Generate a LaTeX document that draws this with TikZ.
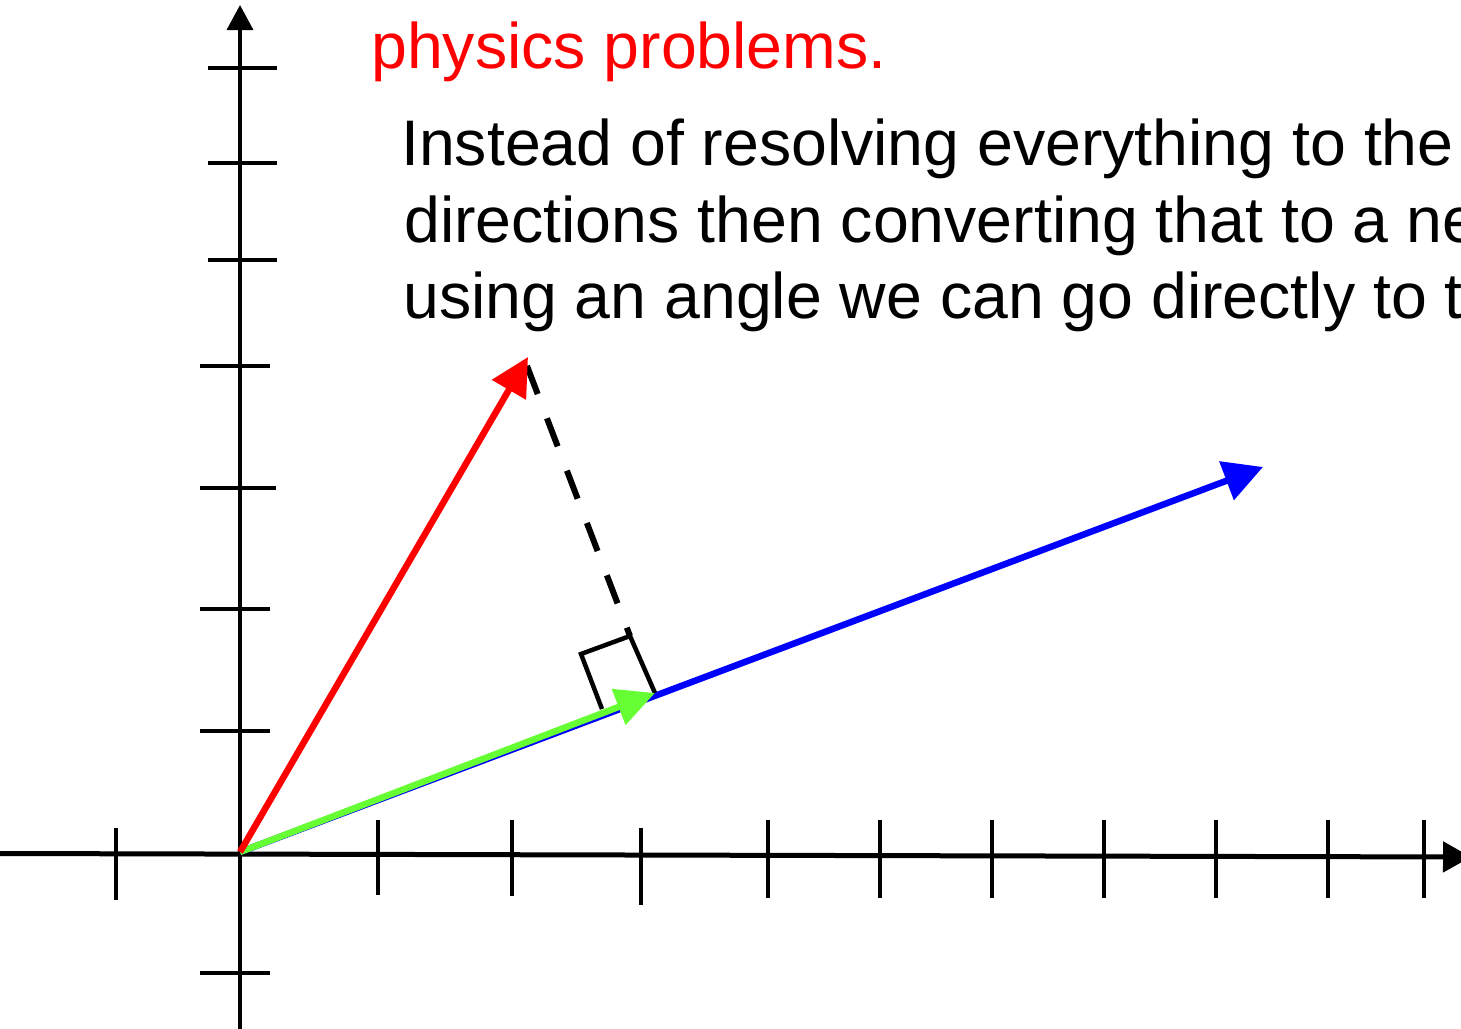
\documentclass[tikz,border=0pt]{standalone}
\usepackage{fontspec}
\setmainfont{Liberation Sans}
\usetikzlibrary{arrows.meta}
\definecolor{vecred}{RGB}{255,0,0}
\definecolor{vecblue}{RGB}{0,0,255}
\definecolor{vecgreen}{RGB}{102,255,51}
\begin{document}
\begin{tikzpicture}[x=1pt,y=-1pt,
  xaxis/.style={black,line width=5pt},
  yaxis/.style={black,line width=3.5pt},
  tickmark/.style={black,line width=4pt},
  vec/.style={line width=6.5pt},
  dashline/.style={black,line width=6pt,dash pattern=on 30pt off 26pt},
  rightbox/.style={black,line width=4.5pt,line join=miter},
  txt/.style={anchor=base west,inner sep=0pt,font=\fontsize{64.4pt}{77pt}\selectfont}]
\useasboundingbox (0,0) rectangle (1461,1028);
\clip (0,0) rectangle (1461,1028);

% axes
\coordinate (xl) at (0,853.5);
\coordinate (xr) at (1471,857);
\coordinate (yb) at (240,1032);
\coordinate (yt) at (240,5);
\draw[xaxis,-{Triangle[length=28pt,width=30pt]}] (xl) -- (xr);
\draw[yaxis,-{Triangle[length=25pt,width=26pt]}] (yb) -- (yt);

% y ticks
\foreach \yy in {68,163,260}{\draw[tickmark] (208,\yy) -- (277,\yy);}
\foreach \yy in {366,609,731,973}{\draw[tickmark] (200,\yy) -- (270,\yy);}
\draw[tickmark] (200,488) -- (276,488);

% x ticks
\draw[tickmark] (116,828) -- (116,900);
\draw[tickmark] (378,820) -- (378,895);
\draw[tickmark] (512,820) -- (512,896);
\draw[tickmark] (641,828) -- (641,905);
\foreach \xx in {768,880,992,1104,1216,1328,1424}{\draw[tickmark] (\xx,820) -- (\xx,898);}

% vectors
\coordinate (O) at (240,852);
\coordinate (R) at (528,357);
\coordinate (B) at (1263,467);
\coordinate (G) at (655,693);
\coordinate (Bx) at (630,636);
\coordinate (Cx) at (581,654);
\coordinate (Dx) at (602,709);
\coordinate (Rd) at (527,366);

\draw[vec,vecblue,-{Triangle[length=39pt,width=40pt]}] (O) -- (B);
\draw[dashline] (Rd) -- (Bx);
\draw[rightbox] (Dx) -- (Cx) -- (Bx) -- (G);
\draw[vec,vecgreen,-{Triangle[length=39pt,width=37pt]}] (O) -- (G);
\draw[vec,vecred,-{Triangle[length=38pt,width=38pt]}] (O) -- (R);

% texts
\node[txt,text=vecred] (r2) at (371,68) {physics problems.};
\node[txt] (t1) at (401,165) {Instead of resolving everything to the};
\node[txt] (t2) at (404,242) {directions then converting that to a new};
\node[txt] (t3) at (403,318) {using an angle we can go directly to the};
\end{tikzpicture}
\end{document}
